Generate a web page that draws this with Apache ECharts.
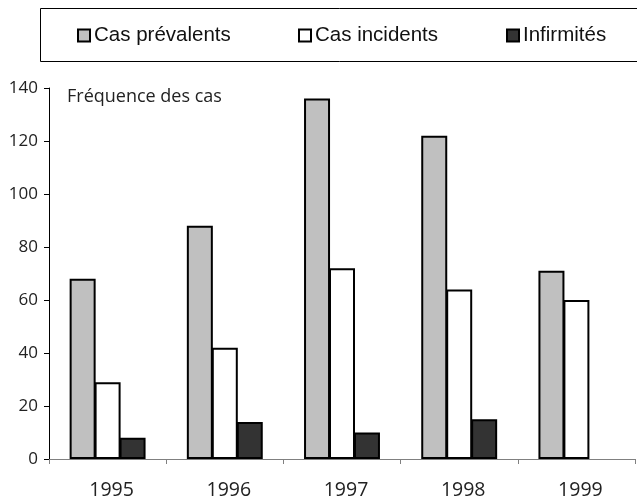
<!DOCTYPE html>
<html>
<head>
<meta charset="utf-8">
<script src="https://cdn.jsdelivr.net/npm/echarts@6/dist/echarts.min.js"></script>
<style>html,body{margin:0;padding:0;background:#fff;}#c{width:637px;height:500px;}</style>
</head>
<body>
<div id="c"></div>
<script>
const categories = ['1995', '1996', '1997', '1998', '1999'];
const seriesNames = ['Cas prévalents', 'Cas incidents', 'Infirmités'];
const prevalents = [68, 88, 136, 122, 71];
const incidents = [29, 42, 72, 64, 60];
const infirmites = [8, 14, 10, 15, null];
const yTicks = { min: 0, max: 140, interval: 20 };
const yTitle = 'Fréquence des cas';

const colors = ['#C0C0C0', '#FFFFFF', '#333333'];
const values = [prevalents, incidents, infirmites];
const legendLefts = [77, 298, 506];

const chart = echarts.init(document.getElementById('c'), null, { renderer: 'canvas' });

const series = seriesNames.map((name, i) => ({
  name: name,
  type: 'bar',
  data: values[i],
  barWidth: 26,
  barGap: '-4%',
  itemStyle: { color: colors[i], borderColor: '#000', borderWidth: 2 },
  emphasis: { disabled: true },
  animation: false
}));

const legends = seriesNames.map((name, i) => ({
  data: [name],
  left: legendLefts[i],
  top: 25,
  padding: 0,
  icon: 'rect',
  itemWidth: 12,
  itemHeight: 12,
  itemStyle: { borderColor: '#000', borderWidth: 2 },
  textStyle: { fontFamily: 'Liberation Sans', fontSize: 20.5, color: '#111', padding: [0, 0, 0, -1] },
  selectedMode: false
}));

chart.setOption({
  animation: false,
  backgroundColor: '#fff',
  grid: { left: 49, right: 2, top: 88, bottom: 41, containLabel: false },
  legend: legends,
  graphic: [
    { type: 'rect', shape: { x: 40.5, y: 8.5, width: 620, height: 53 }, style: { fill: 'none', stroke: '#000', lineWidth: 1 }, silent: true },
    { type: 'text', left: 67, top: 88, style: { text: yTitle, font: '18px "Open Sans"', fill: '#222' }, silent: true }
  ],
  xAxis: {
    type: 'category',
    data: categories,
    axisLine: { show: true, lineStyle: { color: '#808080', width: 1 } },
    axisTick: { show: true, inside: false, length: 5, lineStyle: { color: '#808080' } },
    axisLabel: { fontFamily: 'Open Sans', fontSize: 19.5, color: '#222', margin: 21, padding: [0, 0, 0, 8] },
    splitLine: { show: false }
  },
  yAxis: {
    type: 'value',
    min: yTicks.min,
    max: yTicks.max,
    interval: yTicks.interval,
    axisLine: { show: true, lineStyle: { color: '#000', width: 1 } },
    axisTick: { show: true, inside: false, length: 5, lineStyle: { color: '#000' } },
    axisLabel: { fontFamily: 'Open Sans', fontSize: 17, color: '#222', margin: 11 },
    splitLine: { show: false }
  },
  series: series
});
</script>
</body>
</html>
